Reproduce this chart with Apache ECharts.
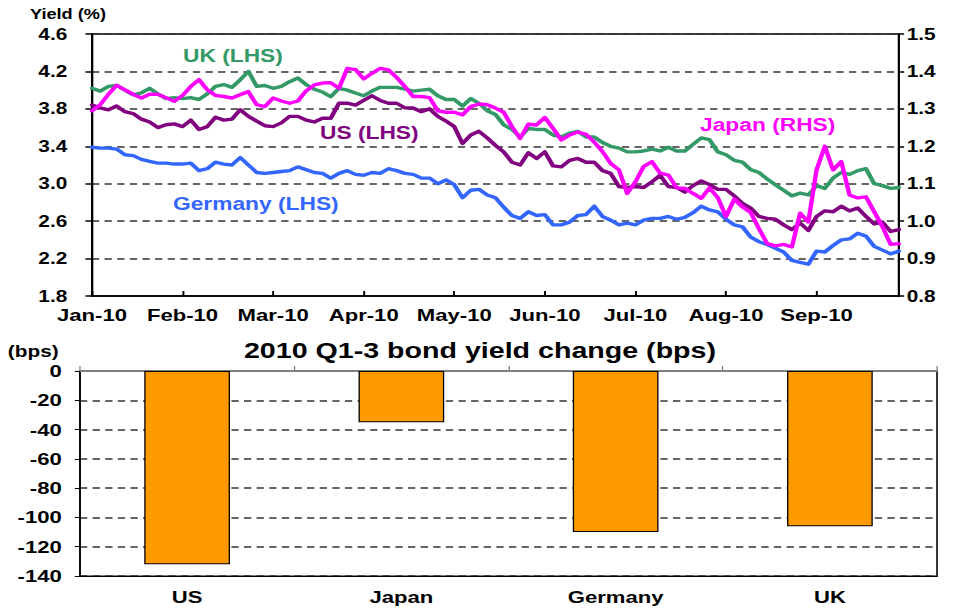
<!DOCTYPE html>
<html>
<head>
<meta charset="utf-8">
<script src="https://cdn.jsdelivr.net/npm/echarts@6/dist/echarts.min.js"></script>
<style>
  html, body { margin: 0; padding: 0; background: #fff; overflow: hidden; }
  /* the chart is laid out narrow and widened horizontally, giving the wide lettering */
  #chart { width: 735px; height: 610px; transform: scaleX(1.3007); transform-origin: 0 0; }
</style>
</head>
<body>
<div id="chart"></div>
<script>
// ---- 10-year government bond yields, Jan-Sep 2010 (sampled roughly every two trading days) ----
const months = ['Jan-10', 'Feb-10', 'Mar-10', 'Apr-10', 'May-10', 'Jun-10', 'Jul-10', 'Aug-10', 'Sep-10'];
const pointsPerMonth = 11;

// UK, % (left axis)
const ukYield = [
  4.02, 3.99, 4.04, 4.05, 4.00, 3.95, 3.97, 4.02, 3.96, 3.91, 3.92, 3.91, 3.92, 3.90, 3.96, 4.04, 4.06,
  4.03, 4.11, 4.20, 4.04, 4.05, 4.02, 4.04, 4.09, 4.13, 4.06, 4.01, 3.98, 3.93, 4.02, 4.00, 3.97, 3.94,
  3.99, 4.03, 4.03, 4.03, 4.01, 3.99, 4.00, 4.01, 3.94, 3.90, 3.90, 3.83, 3.91, 3.86, 3.78, 3.74,
  3.63, 3.58, 3.50, 3.59, 3.58, 3.58, 3.52, 3.50, 3.54, 3.56, 3.50, 3.50, 3.44, 3.40, 3.38, 3.34,
  3.34, 3.35, 3.37, 3.35, 3.39, 3.35, 3.35, 3.42, 3.49, 3.47, 3.34, 3.31, 3.25, 3.23, 3.15, 3.12, 3.05,
  2.99, 2.93, 2.87, 2.90, 2.88, 2.98, 2.95, 3.06, 3.12, 3.10, 3.14, 3.16, 3.00, 2.98, 2.95, 2.96
];

// US, % (left axis)
const usYield = [
  3.84, 3.81, 3.79, 3.83, 3.77, 3.75, 3.69, 3.66, 3.60, 3.63, 3.64, 3.61, 3.68, 3.58, 3.61, 3.71, 3.68,
  3.69, 3.79, 3.72, 3.67, 3.62, 3.61, 3.65, 3.72, 3.72, 3.68, 3.66, 3.70, 3.70, 3.86, 3.86, 3.84, 3.89,
  3.94, 3.89, 3.86, 3.86, 3.81, 3.81, 3.77, 3.80, 3.72, 3.67, 3.61, 3.43, 3.52, 3.56, 3.49, 3.41,
  3.34, 3.23, 3.20, 3.33, 3.27, 3.34, 3.19, 3.18, 3.25, 3.27, 3.23, 3.23, 3.14, 3.11, 2.97, 2.96,
  2.97, 2.96, 3.02, 3.09, 2.97, 2.96, 2.91, 2.98, 3.03, 2.99, 2.94, 2.94, 2.87, 2.79, 2.74, 2.65, 2.63,
  2.62, 2.56, 2.51, 2.58, 2.50, 2.65, 2.71, 2.70, 2.76, 2.71, 2.74, 2.65, 2.57, 2.59, 2.49, 2.51
];

// Germany, % (left axis)
const deYield = [
  3.39, 3.38, 3.38, 3.37, 3.31, 3.30, 3.26, 3.24, 3.22, 3.22, 3.21, 3.21, 3.22, 3.14, 3.16, 3.23, 3.21,
  3.20, 3.28, 3.20, 3.12, 3.11, 3.12, 3.13, 3.14, 3.18, 3.15, 3.12, 3.11, 3.06, 3.11, 3.14, 3.10, 3.09,
  3.12, 3.11, 3.16, 3.14, 3.11, 3.10, 3.06, 3.06, 3.00, 3.04, 2.99, 2.85, 2.93, 2.94, 2.88, 2.85,
  2.75, 2.66, 2.63, 2.70, 2.66, 2.67, 2.56, 2.56, 2.59, 2.66, 2.67, 2.76, 2.65, 2.61, 2.56, 2.58,
  2.56, 2.61, 2.63, 2.63, 2.65, 2.62, 2.64, 2.69, 2.76, 2.72, 2.70, 2.62, 2.56, 2.54, 2.43, 2.38, 2.35,
  2.31, 2.27, 2.18, 2.16, 2.14, 2.28, 2.27, 2.34, 2.40, 2.41, 2.47, 2.44, 2.33, 2.29, 2.25, 2.28
];

// Japan, % (right axis)
const jpYield = [
  1.295, 1.311, 1.339, 1.363, 1.351, 1.339, 1.329, 1.339, 1.339, 1.330, 1.320, 1.336, 1.360, 1.378, 1.351, 1.336, 1.333,
  1.329, 1.338, 1.346, 1.311, 1.306, 1.329, 1.321, 1.315, 1.321, 1.348, 1.364, 1.369, 1.370, 1.355, 1.408, 1.405, 1.380,
  1.395, 1.408, 1.404, 1.384, 1.360, 1.333, 1.333, 1.330, 1.295, 1.291, 1.291, 1.284, 1.306, 1.313, 1.311, 1.302,
  1.291, 1.253, 1.221, 1.259, 1.257, 1.277, 1.248, 1.217, 1.230, 1.238, 1.232, 1.211, 1.186, 1.154, 1.137, 1.074,
  1.105, 1.146, 1.159, 1.128, 1.123, 1.089, 1.088, 1.074, 1.061, 1.089, 1.063, 1.012, 1.059, 1.038, 1.023, 0.980, 0.940,
  0.934, 0.938, 0.931, 1.021, 0.998, 1.137, 1.200, 1.137, 1.159, 1.070, 1.062, 1.065, 1.025, 0.985, 0.938, 0.940
];

// Axis ranges
const lhsMin = 1.8, lhsMax = 4.6, lhsStep = 0.4;
const rhsMin = 0.8, rhsMax = 1.5, rhsStep = 0.1;

// ---- Change in yield over Q1-Q3 2010, basis points ----
const countries = ['US', 'Japan', 'Germany', 'UK'];
const yieldChangeBps = [-132, -35, -110, -106];
const bpsMin = -140, bpsMax = 0, bpsStep = 20;

const FONT = 'Arial, "Liberation Sans", sans-serif';
const COLORS = { uk: '#339966', us: '#800080', de: '#3366FF', jp: '#FF00FF', bar: '#FF9900' };

// Left/right value axes are offset so that ticks start at their minimum
const obs = ukYield.map((_, i) => i);
const shift = (arr, base) => arr.map(v => +(v - base).toFixed(4));
const isMonthStart = (i) => i % pointsPerMonth === 0;

const boldLabel = (size) => ({ fontFamily: FONT, fontWeight: 'bold', fontSize: size, color: '#000' });
const gridDash = { type: [5.6, 4.1], color: '#333', width: 1.5 };

const lineSeries = (name, data, color, yAxisIndex, base) => ({
  name, type: 'line', xAxisIndex: 0, yAxisIndex,
  data: shift(data, base),
  symbol: 'none', smooth: false,
  lineStyle: { color, width: 3.4, join: 'round', cap: 'round' },
  itemStyle: { color },
  z: 3
});

const text = (str, x, y, size, color, align) => ({
  type: 'text', x, y, silent: true,
  style: { text: str, fontFamily: FONT, fontWeight: 'bold', fontSize: size, fill: color,
           align: align || 'left', verticalAlign: 'middle' }
});

const chart = echarts.init(document.getElementById('chart'), null, { renderer: 'svg' });

chart.setOption({
  animation: false,
  backgroundColor: '#fff',
  textStyle: { fontFamily: FONT },
  grid: [
    { left: 70.7, top: 34, width: 620.4, height: 262, show: true, borderColor: '#000', borderWidth: 1.5 },
    { left: 61.5, top: 371, width: 658.9, height: 205, show: true, borderColor: '#000', borderWidth: 1.2 }
  ],
  xAxis: [
    {
      gridIndex: 0, type: 'category', data: obs, boundaryGap: false,
      axisLine: { onZero: false, lineStyle: { color: '#000', width: 1.5 } },
      axisTick: { show: true, inside: true, length: 5, interval: isMonthStart, lineStyle: { color: '#000', width: 1.5 } },
      axisLabel: Object.assign(boldLabel(17), {
        interval: isMonthStart, margin: 10,
        formatter: (v, i) => months[Math.round(i / pointsPerMonth)]
      }),
      splitLine: { show: false }
    },
    {
      gridIndex: 1, type: 'category', data: countries, position: 'bottom',
      axisLine: { onZero: false, lineStyle: { color: '#000', width: 1.2 } },
      axisTick: { show: false },
      axisLabel: Object.assign(boldLabel(17), { margin: 12 }),
      splitLine: { show: false }
    },
    {
      gridIndex: 1, type: 'category', data: countries, position: 'top',
      axisLine: { onZero: false, lineStyle: { color: '#808080', width: 2 } },
      axisTick: { show: true, length: 5, lineStyle: { color: '#808080', width: 1 } },
      axisLabel: { show: false },
      splitLine: { show: false }
    }
  ],
  yAxis: [
    {
      gridIndex: 0, type: 'value', position: 'left',
      min: 0, max: +(lhsMax - lhsMin).toFixed(4), interval: lhsStep,
      axisLine: { show: true, onZero: false, lineStyle: { color: '#000', width: 1.5 } },
      axisTick: { show: true, length: 5, lineStyle: { color: '#000', width: 1.5 } },
      axisLabel: Object.assign(boldLabel(16), { margin: 19, formatter: v => (v + lhsMin).toFixed(1) }),
      splitLine: { show: true, lineStyle: gridDash }
    },
    {
      gridIndex: 0, type: 'value', position: 'right',
      min: 0, max: +(rhsMax - rhsMin).toFixed(4), interval: rhsStep,
      axisLine: { show: true, onZero: false, lineStyle: { color: '#000', width: 1.5 } },
      axisTick: { show: true, length: 4, lineStyle: { color: '#000', width: 1.5 } },
      axisLabel: Object.assign(boldLabel(16), { margin: 6, formatter: v => (v + rhsMin).toFixed(1) }),
      splitLine: { show: false }
    },
    {
      gridIndex: 1, type: 'value', position: 'left',
      min: bpsMin, max: bpsMax, interval: bpsStep,
      axisLine: { show: true, onZero: false, lineStyle: { color: '#000', width: 1.2 } },
      axisTick: { show: true, length: 4, lineStyle: { color: '#000', width: 1 } },
      axisLabel: Object.assign(boldLabel(17), { margin: 14 }),
      splitLine: { show: true, lineStyle: gridDash }
    }
  ],
  series: [
    lineSeries('Germany (LHS)', deYield, COLORS.de, 0, lhsMin),
    lineSeries('UK (LHS)', ukYield, COLORS.uk, 0, lhsMin),
    lineSeries('US (LHS)', usYield, COLORS.us, 0, lhsMin),
    lineSeries('Japan (RHS)', jpYield, COLORS.jp, 1, rhsMin),
    {
      name: '2010 Q1-3 bond yield change (bps)', type: 'bar', xAxisIndex: 1, yAxisIndex: 2,
      data: yieldChangeBps, barWidth: '40%',
      itemStyle: { color: COLORS.bar, borderColor: '#000', borderWidth: 1 }
    }
  ],
  graphic: [
    text('Yield (%)', 23, 14, 14, '#000'),
    text('UK (LHS)', 140.7, 56, 17.5, COLORS.uk),
    text('US (LHS)', 246, 133, 17.5, COLORS.us),
    text('Germany (LHS)', 133, 204, 17.5, COLORS.de),
    text('Japan (RHS)', 538.2, 125, 17.5, COLORS.jp),
    text('(bps)', 6, 351, 16, '#000'),
    text('2010 Q1-3 bond yield change (bps)', 369, 350, 22, '#000', 'center')
  ]
});
</script>
</body>
</html>
